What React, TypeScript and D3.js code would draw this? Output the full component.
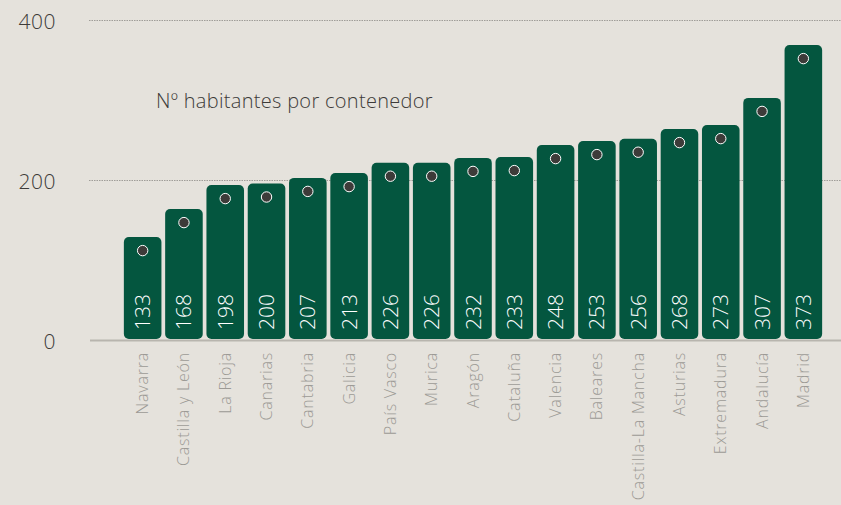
import React from "react";
import * as d3 from "d3";

const categories = [
  "Navarra", "Castilla y León", "La Rioja", "Canarias", "Cantabria", "Galicia",
  "País Vasco", "Murica", "Aragón", "Cataluña", "Valencia", "Baleares",
  "Castilla-La Mancha", "Asturias", "Extremadura", "Andalucía", "Madrid",
];
const values = [133, 168, 198, 200, 207, 213, 226, 226, 232, 233, 248, 253, 256, 268, 273, 307, 373];
const yTicks = [0, 200, 400];
const title = "Nº habitantes por contenedor";

const W = 841;
const H = 505;
const FONT = "'Open Sans', 'Noto Sans', sans-serif";

export default function App() {
  const x = d3.scaleBand<string>().domain(categories).range([122, 824]).paddingInner(0.09).paddingOuter(0.045);
  const y = d3.scaleLinear().domain([0, 400]).range([340.5, 20.5]);
  const bw = x.bandwidth();
  return (
    <svg width={W} height={H} style={{ position: "absolute", left: 0, top: 0, background: "#e5e2dc" }}>
      <rect x={0} y={0} width={W} height={H} fill="#e5e2dc" />
      {yTicks.filter((t) => t !== 0).map((t) => (
        <line key={t} x1={89} x2={W} y1={y(t)} y2={y(t)} stroke="#9f9d98" strokeWidth={1} strokeDasharray="1.5 1" />
      ))}
      <line x1={90} x2={W} y1={y(0)} y2={y(0)} stroke="#b8b5ae" strokeWidth={2} />
      {yTicks.map((t) => (
        <text key={t} x={56} y={y(t) + 8.5} textAnchor="end" fontFamily={FONT} fontWeight={300} fontSize={21} letterSpacing={0.5} fill="#3d3b39">
          {t}
        </text>
      ))}
      {categories.map((c, i) => {
        const x0 = x(c)!;
        const top = y(values[i]) + 3;
        const bottom = y(0) - 1.5;
        const cx = x0 + bw / 2;
        return (
          <g key={c}>
            <rect x={x0} y={top} width={bw} height={bottom - top} rx={5} ry={5} fill="#04563f" />
            <circle cx={cx} cy={top + 13.5} r={5.2} fill="#3d3b39" stroke="#ffffff" strokeWidth={1} />
            <text
              transform={`translate(${cx + 7.5},${bottom - 9}) rotate(-90)`}
              fontFamily={FONT}
              fontWeight={300}
              fontSize={21}
              fill="#ffffff"
            >
              {values[i]}
            </text>
            <text
              transform={`translate(${cx + 5.5},352) rotate(-90)`}
              textAnchor="end"
              fontFamily={FONT}
              fontWeight={300}
              fontSize={16}
              letterSpacing={0.8}
              fill="#9c9a95"
            >
              {c}
            </text>
          </g>
        );
      })}
      <text x={156} y={108} fontFamily={FONT} fontWeight={300} fontSize={20} letterSpacing={0.3} fill="#3d3b39">
        {title}
      </text>
    </svg>
  );
}
